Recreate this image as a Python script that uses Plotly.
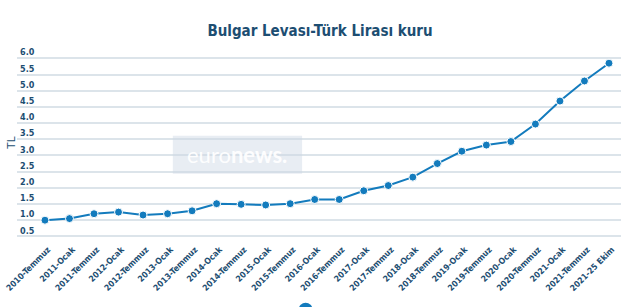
import plotly.graph_objects as go

categories = ["2010-Temmuz", "2011-Ocak", "2011-Temmuz", "2012-Ocak", "2012-Temmuz",
              "2013-Ocak", "2013-Temmuz", "2014-Ocak", "2014-Temmuz", "2015-Ocak",
              "2015-Temmuz", "2016-Ocak", "2016-Temmuz", "2017-Ocak", "2017-Temmuz",
              "2018-Ocak", "2018-Temmuz", "2019-Ocak", "2019-Temmuz", "2020-Ocak",
              "2020-Temmuz", "2021-Ocak", "2021-Temmuz", "2021-25 Ekim"]
values = [1.00, 1.05, 1.20, 1.25, 1.16, 1.20, 1.29, 1.51, 1.49, 1.47,
          1.51, 1.64, 1.64, 1.91, 2.07, 2.33, 2.75, 3.13, 3.32, 3.43,
          3.97, 4.68, 5.30, 5.85]
y_ticks = [0.5, 1.0, 1.5, 2.0, 2.5, 3.0, 3.5, 4.0, 4.5, 5.0, 5.5, 6.0]

title_text = "Bulgar Levası-Türk Lirası kuru"
y_title = "TL"

DARK = "#1d4e72"
LINE = "#137bbd"
COND = "DejaVu Sans Condensed, DejaVu Sans, sans-serif"

fig = go.Figure()
fig.add_trace(go.Scatter(
    x=categories, y=values, mode="lines+markers",
    line=dict(color=LINE, width=2),
    marker=dict(color=LINE, size=8, line=dict(color="white", width=1)),
    showlegend=False, hoverinfo="x+y"))
fig.add_trace(go.Scatter(
    x=[None], y=[None], mode="markers", name="",
    marker=dict(color=LINE, size=14), showlegend=True))

fig.update_layout(
    width=640, height=307,
    margin=dict(l=17, r=19, t=47, b=68.55, autoexpand=False),
    paper_bgcolor="white", plot_bgcolor="white",
    title=dict(text="<b>" + title_text + "</b>", x=0.5, xanchor="center",
               y=0.9, yanchor="middle",
               font=dict(family=COND, size=15, color=DARK)),
    showlegend=True,
    legend=dict(orientation="h", x=0.482, xanchor="center", y=-0.30, yanchor="top",
                font=dict(size=10), bgcolor="rgba(0,0,0,0)"),
    xaxis=dict(type="category", range=[-1.14, 23.49], tickangle=-45,
               showgrid=False, showline=False, zeroline=False, ticks="",
               automargin=False, ticklabelstandoff=4, ticklabelshift=3,
               tickfont=dict(family=COND, size=8.5, color=DARK, weight="bold"),
               fixedrange=True),
    yaxis=dict(range=[0.45, 6.35], tickvals=y_ticks,
               ticktext=[f"{v:.1f}" for v in y_ticks],
               ticklabelposition="inside", ticklabelshift=-6,
               ticklabelstandoff=0, automargin=False,
               showgrid=True, gridcolor="#dce4ea", gridwidth=1.5,
               zeroline=False, showline=False, ticks="",
               tickfont=dict(family=COND, size=9, color=DARK, weight="bold"),
               title=dict(text=y_title, standoff=2,
                          font=dict(family="Arial, Liberation Sans, sans-serif", size=11, color=DARK)),
               fixedrange=True),
)

# euronews watermark
fig.add_shape(type="rect", xref="paper", yref="paper",
              x0=0.258, x1=0.472, y0=0.337, y1=0.535,
              fillcolor="rgba(205,215,228,0.45)", line=dict(width=0), layer="above")
fig.add_annotation(xref="paper", yref="paper", x=0.365, y=0.436,
                   text="euro<b>news.</b>", showarrow=False,
                   font=dict(family="Lato, Noto Sans, sans-serif", size=22, color="rgba(255,255,255,0.95)"))

fig.write_html("out.html")
